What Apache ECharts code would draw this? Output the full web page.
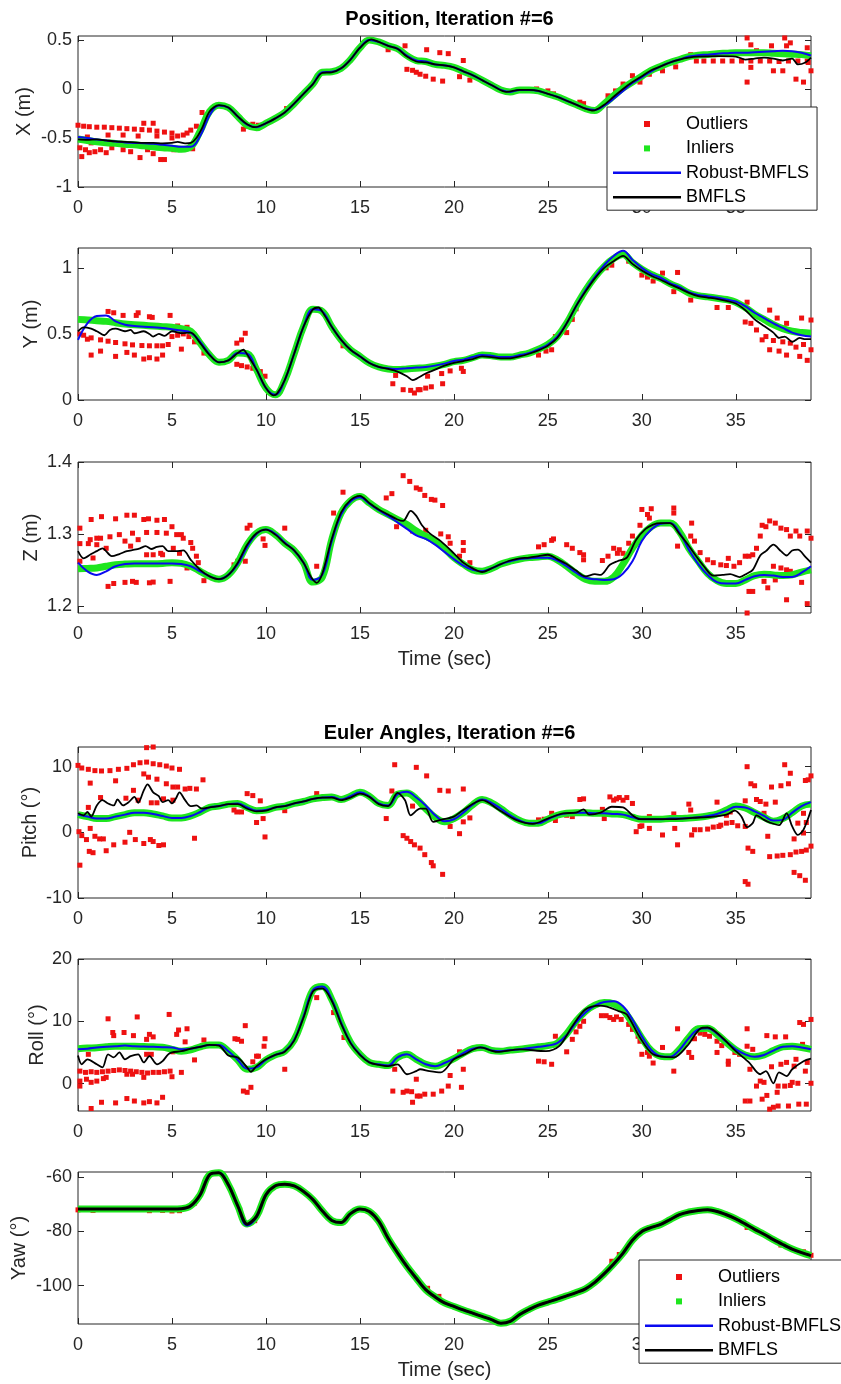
<!DOCTYPE html>
<html>
<head>
<meta charset="utf-8">
<script src="https://cdn.jsdelivr.net/npm/echarts@6/dist/echarts.min.js"></script>
<style>
html,body{margin:0;padding:0;background:#fff;}
#chart{width:841px;height:1384px;}
</style>
</head>
<body>
<div id="chart"></div>
<script>
// ---- time base (sec) shared by the inlier and robust-estimate curves ----
const T = [0,0.5,1,1.5,2,2.5,3,3.5,4,4.5,5,5.5,6,6.5,7,7.5,8,8.5,9,9.5,10,10.5,11,11.5,12,12.5,13,13.5,14,14.5,15,15.5,16,16.5,17,17.5,18,18.5,19,19.5,20,20.5,21,21.5,22,22.5,23,23.5,24,24.5,25,25.5,26,26.5,27,27.5,28,28.5,29,29.5,30,30.5,31,31.5,32,32.5,33,33.5,34,34.5,35,35.5,36,36.5,37,37.5,38,38.5,39];
const timeTicks = [0,5,10,15,20,25,30,35];

// ---- X position (m) ----
const xTicks = [-1,-0.5,0,0.5];
const xInliers = [-0.51,-0.525,-0.54,-0.55,-0.555,-0.565,-0.57,-0.58,-0.59,-0.6,-0.605,-0.615,-0.59,-0.43,-0.23,-0.165,-0.19,-0.28,-0.37,-0.395,-0.35,-0.3,-0.24,-0.15,-0.05,0.05,0.17,0.175,0.21,0.3,0.42,0.5,0.48,0.44,0.41,0.34,0.29,0.28,0.25,0.24,0.22,0.18,0.14,0.09,0.04,-0.01,-0.03,-0.01,-0.01,-0.02,-0.05,-0.08,-0.12,-0.16,-0.2,-0.22,-0.15,-0.07,0.01,0.07,0.13,0.19,0.23,0.27,0.3,0.33,0.345,0.35,0.36,0.365,0.37,0.37,0.37,0.37,0.365,0.36,0.355,0.35,0.34];
const xRobust = [-0.49,-0.5,-0.515,-0.525,-0.535,-0.545,-0.55,-0.555,-0.56,-0.57,-0.58,-0.59,-0.59,-0.48,-0.27,-0.17,-0.19,-0.28,-0.365,-0.39,-0.35,-0.3,-0.24,-0.15,-0.05,0.05,0.17,0.175,0.21,0.3,0.42,0.5,0.48,0.44,0.41,0.34,0.29,0.28,0.25,0.24,0.22,0.18,0.14,0.09,0.04,-0.01,-0.03,-0.01,-0.01,-0.02,-0.05,-0.08,-0.12,-0.16,-0.2,-0.215,-0.17,-0.1,-0.02,0.06,0.12,0.18,0.23,0.27,0.3,0.33,0.345,0.35,0.36,0.365,0.37,0.37,0.375,0.38,0.385,0.39,0.385,0.37,0.34];
const xBmfls = [[0,-0.515],[0.5,-0.52],[1,-0.515],[1.5,-0.525],[2,-0.535],[2.5,-0.54],[3,-0.545],[3.5,-0.55],[4,-0.55],[4.5,-0.555],[5,-0.55],[5.3,-0.54],[5.7,-0.555],[6,-0.55],[6.3,-0.5],[6.6,-0.4],[7,-0.23],[7.5,-0.165],[8,-0.19],[8.5,-0.28],[9,-0.36],[9.4,-0.39],[10,-0.35],[10.5,-0.3],[11,-0.24],[11.5,-0.15],[12,-0.05],[12.5,0.05],[13,0.165],[13.5,0.17],[14,0.21],[14.5,0.3],[15,0.42],[15.6,0.505],[16,0.48],[16.5,0.44],[17,0.41],[17.5,0.33],[18,0.28],[18.5,0.27],[19,0.25],[19.5,0.24],[20,0.22],[20.5,0.18],[21,0.14],[21.5,0.09],[22,0.04],[22.8,-0.03],[23.5,-0.01],[24,-0.01],[24.5,-0.02],[25,-0.05],[25.5,-0.08],[26,-0.12],[26.5,-0.16],[27,-0.2],[27.4,-0.22],[28,-0.16],[28.5,-0.08],[29,0],[29.5,0.07],[30,0.13],[30.5,0.19],[31,0.23],[31.5,0.27],[32,0.3],[32.5,0.32],[33,0.33],[34,0.335],[35,0.33],[35.5,0.3],[36,0.31],[36.5,0.32],[37,0.31],[37.5,0.29],[38,0.31],[38.3,0.25],[38.7,0.27],[39,0.32]];
const xOutliers = [[0,-0.37],[0.3,-0.38],[0.6,-0.385],[1,-0.39],[1.4,-0.39],[1.8,-0.395],[2.2,-0.4],[2.6,-0.405],[3,-0.41],[3.4,-0.415],[3.8,-0.42],[4.2,-0.43],[4.6,-0.44],[5,-0.45],[3.5,-0.35],[4,-0.35],
 [0.1,-0.6],[0.2,-0.69],[0.4,-0.62],[0.6,-0.65],[0.7,-0.55],[0.9,-0.64],[1.2,-0.62],[1.5,-0.65],[1.8,-0.6],[2.4,-0.62],[2.8,-0.64],[3.3,-0.7],[3.7,-0.62],[4,-0.66],[4.4,-0.72],[4.6,-0.72],[5.1,-0.62],[6.1,-0.61],
 [0.5,-0.49],[1.6,-0.47],[2.4,-0.47],[3.2,-0.48],[4.2,-0.48],[5,-0.5],[5.3,-0.48],[5.6,-0.47],[5.8,-0.45],[6,-0.42],[6.3,-0.38],[6.6,-0.24],
 [8.8,-0.41],[9,-0.38],[9.3,-0.36],[9.6,-0.37],[10,-0.35],[11.1,-0.2],
 [16.5,0.4],[16.9,0.55],[17.4,0.44],[17.5,0.2],[17.8,0.19],[18,0.17],[18.55,0.4],[19.25,0.37],[19.7,0.36],[20.5,0.29],[18.2,0.15],[18.5,0.13],[18.9,0.1],[19.4,0.08],[20.3,0.125],[20.85,0.09],
 [24.4,0],[25,-0.02],[25.3,-0.05],[26.7,-0.135],[26.9,-0.15],
 [28.2,-0.07],[28.6,-0.02],[29,0.05],[29.5,0.135],[29.9,0.07],[30.4,0.15],[31.1,0.185],[31.8,0.225],[32.6,0.35],[32.9,0.285],[33.3,0.285],[33.8,0.285],[34.3,0.285],[34.8,0.285],[35.3,0.285],[35.8,0.285],[36.3,0.285],[36.8,0.285],[37.3,0.28],[37.8,0.285],[38.3,0.285],[38.8,0.285],
 [35.6,0.52],[35.8,0.45],[35.8,0.22],[35.6,0.07],[36.1,0.39],[36.9,0.44],[37,0.185],[37.5,0.185],[37.6,0.52],[37.7,0.44],[37.9,0.47],[38.2,0.1],[38.6,0.07],[38.8,0.42],[39,0.185],[38.85,0.27]];

// ---- Y position (m) ----
const yTicks = [0,0.5,1];
const yInliers = [0.61,0.605,0.6,0.595,0.585,0.575,0.57,0.565,0.56,0.555,0.55,0.54,0.52,0.43,0.34,0.285,0.3,0.355,0.35,0.23,0.09,0.04,0.15,0.35,0.555,0.686,0.67,0.555,0.455,0.38,0.33,0.28,0.25,0.235,0.23,0.235,0.24,0.245,0.255,0.27,0.29,0.3,0.32,0.34,0.335,0.325,0.325,0.34,0.355,0.385,0.42,0.48,0.58,0.71,0.83,0.93,1.01,1.07,1.1,1.04,0.99,0.95,0.92,0.88,0.85,0.81,0.79,0.78,0.77,0.76,0.74,0.7,0.65,0.61,0.57,0.54,0.52,0.51,0.505];
const yRobust = [0.455,0.58,0.635,0.64,0.595,0.57,0.56,0.555,0.55,0.545,0.535,0.525,0.51,0.44,0.345,0.285,0.3,0.355,0.35,0.23,0.09,0.04,0.15,0.35,0.555,0.686,0.67,0.555,0.455,0.38,0.33,0.28,0.25,0.24,0.235,0.24,0.245,0.25,0.26,0.275,0.295,0.305,0.325,0.34,0.335,0.325,0.325,0.34,0.355,0.385,0.42,0.48,0.58,0.71,0.83,0.93,1.02,1.09,1.13,1.06,1,0.955,0.925,0.885,0.855,0.815,0.795,0.785,0.775,0.76,0.745,0.71,0.66,0.62,0.58,0.545,0.51,0.49,0.48];
const yBmfls = [[0,0.52],[0.3,0.55],[0.7,0.54],[1,0.52],[1.4,0.49],[1.7,0.53],[2,0.54],[2.5,0.52],[2.8,0.53],[3,0.505],[3.5,0.52],[3.8,0.5],[4,0.48],[4.3,0.5],[4.6,0.485],[5,0.52],[5.5,0.505],[6,0.51],[6.5,0.43],[7,0.34],[7.5,0.285],[8,0.3],[8.5,0.355],[8.8,0.38],[9,0.345],[9.5,0.23],[10,0.09],[10.4,0.035],[10.6,0.05],[11,0.15],[11.5,0.35],[12,0.555],[12.5,0.686],[12.8,0.7],[13,0.668],[13.5,0.555],[14,0.455],[14.5,0.38],[15,0.33],[15.5,0.28],[16,0.25],[16.5,0.235],[17,0.215],[17.5,0.18],[17.8,0.15],[18,0.16],[18.5,0.2],[19,0.23],[19.5,0.26],[20,0.28],[20.5,0.295],[21,0.31],[21.5,0.33],[22,0.325],[22.5,0.315],[23,0.315],[23.5,0.33],[24,0.35],[24.5,0.375],[25,0.41],[25.5,0.47],[26,0.58],[26.5,0.71],[27,0.82],[27.5,0.92],[28,1],[28.5,1.05],[29,1.09],[29.5,1.03],[30,0.98],[30.5,0.94],[31,0.91],[31.5,0.875],[32,0.845],[32.5,0.81],[33,0.785],[33.5,0.775],[34,0.765],[34.5,0.75],[35,0.73],[35.5,0.68],[36,0.61],[36.5,0.56],[37,0.51],[37.3,0.47],[37.6,0.48],[38,0.44],[38.4,0.47],[38.7,0.46],[39,0.46]];
const yOutliers = [[0.3,0.49],[0.7,0.47],[1.2,0.455],[1.6,0.445],[2,0.435],[2.5,0.425],[2.9,0.417],[3.4,0.412],[3.8,0.41],[4.2,0.41],[4.5,0.41],[4.8,0.42],[5,0.48],[5.3,0.49],[5.6,0.5],[5.9,0.48],[6.2,0.44],
 [1.6,0.67],[1.9,0.66],[2.4,0.64],[3.1,0.64],[3.2,0.66],[3.8,0.63],[3.95,0.625],[4.9,0.64],[5.3,0.56],[5.8,0.55],
 [0.7,0.34],[1.2,0.37],[2,0.33],[2.6,0.36],[3,0.34],[3.5,0.31],[3.8,0.32],[4.2,0.31],[4.5,0.34],[5.5,0.385],[0.1,0.5],[0.5,0.46],
 [6.7,0.355],[8.45,0.43],[8.7,0.455],[8.9,0.505],[8.45,0.27],[8.7,0.26],[9,0.25],[9.3,0.24],[9.7,0.215],[9.95,0.18],
 [12.6,0.686],[13.6,0.53],[14.1,0.41],
 [16.75,0.123],[16.9,0.186],[17.3,0.078],[17.7,0.073],[17.9,0.053],[18.1,0.078],[18.2,0.078],[18.5,0.09],[18.8,0.1],[19.4,0.123],[18.6,0.18],[19.35,0.2],[19.8,0.22],[20.4,0.24],[20.5,0.216],
 [24.5,0.34],[24.9,0.37],[25.2,0.38],[25.4,0.48],[26,0.51],[26.3,0.61],[26.5,0.69],[26.8,0.78],
 [28.1,1],[28.4,1.02],[29.3,1.05],[30,0.945],[30.3,0.93],[30.6,0.9],[31.1,0.96],[31.9,0.965],[31.7,0.82],[32.6,0.756],[34,0.7],[34.6,0.7],[35.6,0.74],[35.5,0.59],[35.8,0.58],[36.1,0.53],[36.4,0.455],[36.8,0.68],[36.8,0.38],[37.2,0.62],[37.3,0.37],[37.7,0.58],[37.7,0.34],[37.9,0.43],[38.4,0.33],[38.5,0.62],[38.8,0.3],[39,0.605],[39,0.38],[38.6,0.42],[38.2,0.4],[36.6,0.48],[37,0.45],[37.5,0.44]];

// ---- Z position (m) ----
const zTicks = [1.2,1.3,1.4];
const zInliers = [1.2516,1.252,1.2526,1.255,1.257,1.258,1.2586,1.2586,1.2586,1.259,1.26,1.259,1.255,1.248,1.241,1.237,1.243,1.26,1.285,1.301,1.306,1.299,1.287,1.277,1.26,1.233,1.24,1.292,1.329,1.346,1.352,1.343,1.334,1.327,1.32,1.313,1.304,1.297,1.29,1.28,1.267,1.258,1.25,1.248,1.252,1.258,1.262,1.265,1.267,1.268,1.269,1.264,1.255,1.245,1.237,1.234,1.234,1.24,1.258,1.28,1.298,1.31,1.315,1.315,1.303,1.28,1.262,1.245,1.235,1.231,1.231,1.236,1.242,1.244,1.243,1.242,1.243,1.247,1.25];
const zRobust = [1.26,1.248,1.243,1.248,1.255,1.258,1.259,1.259,1.259,1.259,1.259,1.258,1.255,1.248,1.241,1.237,1.243,1.258,1.282,1.3,1.306,1.3,1.288,1.277,1.26,1.236,1.243,1.29,1.327,1.345,1.351,1.342,1.333,1.325,1.316,1.307,1.298,1.293,1.285,1.275,1.265,1.256,1.25,1.248,1.252,1.258,1.262,1.265,1.266,1.267,1.267,1.263,1.255,1.246,1.239,1.237,1.236,1.237,1.245,1.262,1.29,1.306,1.314,1.315,1.302,1.278,1.258,1.243,1.233,1.231,1.231,1.236,1.241,1.243,1.242,1.24,1.24,1.246,1.255];
const zBmfls = [[0,1.276],[0.3,1.266],[0.7,1.272],[1,1.276],[1.3,1.28],[1.8,1.269],[2.2,1.272],[2.6,1.276],[3,1.278],[3.3,1.28],[3.6,1.283],[3.9,1.279],[4.2,1.282],[4.5,1.283],[4.8,1.276],[5.2,1.276],[5.6,1.277],[6,1.264],[6.5,1.25],[7,1.241],[7.5,1.237],[8,1.243],[8.5,1.26],[9,1.285],[9.5,1.301],[10,1.306],[10.5,1.299],[11,1.287],[11.5,1.277],[12,1.26],[12.4,1.24],[12.7,1.232],[13,1.245],[13.5,1.293],[14,1.33],[14.5,1.347],[15,1.353],[15.5,1.343],[16,1.334],[16.5,1.327],[17,1.32],[17.3,1.318],[17.7,1.332],[18,1.325],[18.3,1.312],[18.7,1.301],[19.3,1.29],[20,1.273],[20.5,1.26],[21,1.252],[21.5,1.247],[22,1.252],[22.5,1.258],[23,1.263],[23.5,1.266],[24,1.267],[24.5,1.269],[25,1.271],[25.5,1.265],[26,1.258],[26.5,1.249],[27,1.241],[27.5,1.244],[27.8,1.243],[28.3,1.257],[28.7,1.262],[29.2,1.267],[29.7,1.292],[30.2,1.307],[30.6,1.313],[31,1.315],[31.5,1.315],[32,1.3],[32.4,1.287],[33,1.265],[33.3,1.255],[33.8,1.242],[34.3,1.243],[34.7,1.244],[35.2,1.24],[35.6,1.245],[35.9,1.25],[36.3,1.27],[36.6,1.276],[37,1.285],[37.4,1.276],[37.7,1.27],[38,1.277],[38.3,1.278],[38.7,1.268],[39,1.26]];
const zOutliers = [[0.1,1.2865],[0.65,1.292],[1.2,1.294],[1.7,1.296],[2.2,1.299],[2.9,1.301],[3.65,1.302],[4.2,1.302],[4.7,1.301],[5.25,1.299],[5.6,1.294],[6,1.288],[6.1,1.28],[6.3,1.269],[6.4,1.26],
 [0.1,1.308],[0.7,1.32],[1.25,1.324],[2,1.321],[2.6,1.326],[3,1.326],[3.5,1.32],[3.75,1.321],[4.2,1.319],[4.6,1.32],[5,1.31],[5.5,1.299],
 [0.55,1.2865],[1,1.285],[1.5,1.28],[1,1.294],[2.5,1.29],[2.8,1.283],[3.2,1.292],[3.65,1.271],[4,1.271],[4.4,1.273],[4.5,1.271],[5.07,1.28],[5.4,1.273],
 [1.6,1.227],[1.9,1.231],[2.5,1.2326],[2.9,1.234],[3.1,1.2326],[3.8,1.232],[4,1.233],[4.9,1.234],[0.1,1.262],[0.8,1.2665],[5.8,1.2526],[6.7,1.235],
 [8.3,1.257],[8.5,1.262],[8.7,1.271],[8.9,1.262],[9,1.308],[9.15,1.312],[9.85,1.293],[9.95,1.284],[11,1.308],
 [12.7,1.255],[13.6,1.329],[14.1,1.358],[16.4,1.35],[16.7,1.356],[16.95,1.31],[17.3,1.381],[17.65,1.373],[18,1.364],[17.8,1.304],
 [18.2,1.362],[18.45,1.3535],[18.8,1.348],[18.99,1.347],[19.4,1.3395],[18.5,1.305],[19.3,1.3],[19.7,1.296],[19.8,1.287],[20.3,1.269],[20.5,1.288],[20.5,1.277],[20.85,1.26],
 [24.5,1.282],[24.8,1.285],[25.2,1.291],[25.3,1.293],[26,1.285],[26.3,1.28],[26.7,1.274],[26.9,1.271],[26.9,1.264],
 [27.9,1.263],[28.2,1.269],[28.5,1.28],[28.7,1.273],[28.8,1.278],[29,1.273],[29.3,1.287],[29.5,1.297],[29.9,1.312],[30,1.334],[30.3,1.327],[30.4,1.322],[30.5,1.335],[31.7,1.336],[31.7,1.329],[32.65,1.315],[32.6,1.297],[32.8,1.29],[31.9,1.283],[33.1,1.274],[33.5,1.264],[33.8,1.26],[34.2,1.257],[34.5,1.256],[34.9,1.255],[34.6,1.266],[35.2,1.26],[35.5,1.269],[35.7,1.269],[35.9,1.271],[36.1,1.28],[36.3,1.297],[36.4,1.312],[36.6,1.31],[36.8,1.318],[37.1,1.315],[37.4,1.308],[37.7,1.306],[37.9,1.297],[38.2,1.304],[38.4,1.297],[38.8,1.304],[39,1.294],
 [37,1.255],[37.4,1.2526],[37.7,1.25],[37.9,1.248],[38.5,1.2326],[36.5,1.234],[36.7,1.225],[35.7,1.22],[35.9,1.22],[37.1,1.236],[37.7,1.2084],[35.6,1.19],[38.8,1.203]];

// ---- Pitch (deg) ----
const pitchTicks = [-10,0,10];
const pitchInliers = [2.7,2.4,2.1,2.1,2.4,2.7,3,3,2.8,2.5,2.2,2.2,2.5,3.1,3.8,4,4.3,4.4,3.8,3.3,3.4,3.8,4,4.4,4.7,5.1,5.3,5.4,5,5.5,6.1,5.5,4.4,4.1,5.8,6,5.1,3.6,2.3,1.6,2.1,3,4.2,5,4.5,3.6,2.6,1.8,1.4,1.4,2,2.6,2.9,3,3,2.9,2.9,2.8,2.7,2.3,2,2,2,2.1,2.1,2.2,2.3,2.5,2.8,3.4,4,3.7,3,2.3,1.7,2.1,3,4,4.3];
const pitchRobust = [2.7,2.4,2.1,2.1,2.4,2.7,3,3,2.8,2.5,2.2,2.2,2.5,3.1,3.8,4,4.3,4.4,3.8,3.3,3.4,3.8,4,4.4,4.7,5.1,5.3,5.4,5,5.5,6.1,5.5,4.4,4.1,5.8,6.2,5.3,4.1,2.6,1.7,2,3,4.2,5,4.5,3.6,2.6,1.8,1.4,1.4,2,2.6,2.9,3,3,2.9,2.9,2.8,2.7,2.3,2,2,2,2.1,2.1,2.2,2.3,2.5,2.8,3.3,3.9,3.8,3.2,2.5,1.8,1.9,3,4,4.6];
const pitchBmfls = [[0,2.9],[0.3,2.6],[0.5,3.1],[0.7,2.4],[1,4.1],[1.3,4.9],[1.6,4.4],[1.9,4.1],[2.1,5],[2.4,4.1],[2.7,4.6],[3,5.4],[3.2,4.5],[3.5,6.4],[3.7,7.3],[4,6.1],[4.3,5.5],[4.5,4.6],[4.8,4.9],[5,4.4],[5.2,5.1],[5.4,6.1],[5.7,4.9],[6,4],[6.3,4.1],[6.6,3.6],[7,3.8],[7.5,4],[8,4.3],[8.5,4.3],[9,3.6],[9.5,3.2],[10,3.3],[10.5,3.8],[11,4],[11.5,4.4],[12,4.7],[12.5,5.1],[13,5.3],[13.5,5.3],[14,4.9],[14.5,5.3],[15,5.9],[15.5,5.4],[16,4.3],[16.5,4],[17,6],[17.4,4.9],[17.7,2.6],[18.2,3.6],[18.5,3.6],[18.9,1.6],[19.3,1.9],[20,2.4],[20.5,3.4],[21.5,4.9],[22.4,3.4],[23.3,1.9],[24.2,1.3],[25,2.1],[25.8,2.9],[26.5,3],[26.9,3.5],[27.2,2.7],[27.8,3],[28.4,3.9],[29,3.8],[29.5,2.6],[29.9,2],[30.6,2],[31.7,2],[32.7,2.2],[33.8,2.4],[34.5,2.7],[34.95,3.3],[35.3,2.4],[35.6,0.8],[35.9,1.4],[36.1,2.6],[36.5,1.9],[36.8,1.5],[37.3,1.1],[37.7,2.9],[38,0.9],[38.3,-0.4],[38.6,0.4],[39,3.4]];
const pitchOutliers = [[0,10.2],[0.2,9.8],[0.55,9.6],[0.9,9.4],[1.25,9.35],[1.7,9.4],[2.15,9.6],[2.6,9.75],[2.95,10.3],[3.3,10.6],[3.65,10.7],[4,10.45],[4.35,10.3],[4.7,10.1],[5,9.8],[5.4,9.6],[3.65,12.9],[4,13],
 [0.65,7.5],[2,7.85],[2.95,6.4],[3.2,4.9],[3.5,8.9],[3.75,8.4],[4.2,8.1],[4.7,7.4],[5.05,6.9],[5.3,6.9],[5.7,6.6],[5.95,6.7],[6.3,6.6],[6.65,8],[5.05,4.9],[4.55,5.1],[3.9,4.5],[4.2,4.5],[2.55,5.2],[1.2,5.3],[0.55,3.8],
 [0.05,0.1],[0.2,-0.5],[0.1,-5],[0.65,0.6],[0.9,-0.6],[1.15,-1],[1.35,-1],[0.6,-2.9],[0.8,-3.1],[1.5,-2.8],[1.9,-1.9],[2.5,-1.5],[2.75,0],[3.05,-1.1],[3.5,-1.7],[3.85,-1.1],[4,-1.4],[4.3,-2],[4.55,-1.9],[0.45,-1.1],[6.2,-0.9],
 [8.3,3.4],[8.45,3.1],[8.7,3.1],[9,5.9],[9.3,5.6],[9.5,1.5],[9.7,4.8],[9.85,2.1],[9.95,-0.7],[11,3.3],[12.7,5.9],
 [16.85,10.3],[16.4,2.1],[16.7,6.3],[17.3,-0.5],[17.5,-0.9],[17.7,-1.4],[17.9,-1.9],[18,9.9],[17.8,4],
 [18.55,8.6],[18.2,-2.4],[18.45,-3.4],[18.8,-4.6],[18.9,-5.1],[19.4,-6.4],[19.25,6.4],[19.7,6.3],[19.8,0.9],[20.3,-0.2],[20.5,6.6],[20.5,1.6],[20.85,2.2],
 [24.5,1.9],[24.8,2],[25.2,2.9],[25.4,1.8],[26,2.6],[26.3,2.4],[26.7,5],[26.9,5.1],[27.9,3.5],[28,2.1],[28.3,5.4],[28.5,4.9],[28.65,5.1],[28.8,5.3],[29,4.9],[29.2,5.3],[29.5,4.4],[29.7,0.1],[29.9,0.9],[30,1],[30.4,0.6],[30.4,2.4],[31.1,-0.4],[31.7,2.8],[31.9,-1.9],[31.75,0.6],
 [32.5,4.3],[32.6,3.4],[32.65,-0.4],[32.8,0.4],[33.1,0.4],[33.5,0.5],[33.8,0.8],[34.1,0.9],[34.2,1.1],[34.5,1.4],[34.8,1.5],[35.1,1],[35.5,0.9],[34,4.6],[34.5,2.6],[34.7,3.1],[35.5,4.8],
 [35.6,10],[35.8,7.4],[36,7.1],[36.1,5],[36.3,4.7],[36.5,2.9],[36.6,4.3],[36.7,-0.6],[36.9,6.9],[37.1,4.6],[37.4,7.1],[37.6,10.3],[37.8,7.4],[37.9,9],
 [35.65,-2.4],[35.9,-2.9],[35.5,-7.5],[35.65,-7.9],[36.8,-3.7],[37.2,-3.6],[37.5,-3.5],[37.9,-3.4],[38.2,-3],[38.5,-2.9],[38.75,-2.7],[39,-2.1],[38.1,-6.1],[38.4,-6.6],[38.7,-7.3],[38.1,-1],[38.6,-0.1],[38.7,7.9],[38.85,8],[39,8.6],[38.6,2.9],[38.75,1.5],[38.3,1.4]];

// ---- Roll (deg) ----
const rollTicks = [0,10,20];
const rollInliers = [5.6,5.7,5.76,5.9,6,6,6,5.95,5.9,5.85,5.5,5.2,5.4,5.9,6.2,6.2,5.2,3.8,2.3,2.6,3.8,4.6,5.2,7,10.8,15,15.6,13.5,9.8,6.6,4.7,3.4,3.1,2.9,4.2,4.7,3.9,3.1,2.8,3.3,4,4.9,5.6,5.8,5.3,5.2,5.4,5.5,5.7,5.9,6.1,6.5,8,10,11.6,12.6,13,12.8,11.8,9.7,7.3,5.3,4.4,4.3,5.5,7.4,8.8,8.9,7.9,6.6,5.4,4.6,4.3,4.6,5.3,5.9,6,5.8,5.5];
const rollRobust = [5.5,5.6,5.8,5.9,6,6.1,6,5.95,5.9,5.85,5.8,5.5,5.6,5.9,6.2,6.2,5.2,3.8,2.4,2.6,3.8,4.6,5.2,7,10.8,15,15.6,13.5,9.8,6.6,4.7,3.4,3.1,2.9,4.2,4.7,3.9,3.1,2.8,3.3,4,4.9,5.6,5.8,5.3,5.2,5.4,5.5,5.7,5.9,6.1,6.5,7.8,9.8,11.4,12.5,13.1,13.2,12.4,10.3,7.6,5.4,4.4,4.3,5.4,7.3,8.7,8.9,8,6.7,5.5,4.7,4.3,4.6,5.3,5.9,6,5.8,5.5];
const rollBmfls = [[0,4.5],[0.2,3.1],[0.5,3.9],[1,3.1],[1.3,2.6],[1.6,4.7],[1.9,4.2],[2.2,5],[2.5,3.9],[2.8,4.4],[3.2,4.7],[3.5,3.4],[3.8,4.4],[4.2,3.1],[4.5,3.6],[4.8,4.7],[5,5],[5.5,5.2],[6,5.6],[6.5,5.9],[7,6.2],[7.5,6.1],[8,4.5],[8.5,4.2],[9,2.6],[9.2,1.9],[9.5,2.8],[10,3.9],[10.5,4.6],[11,5.1],[11.5,6.9],[12,10.6],[12.5,14.8],[13,15.3],[13.5,13.3],[14,9.6],[14.5,6.5],[15,4.6],[15.5,3.4],[16,3],[16.5,2.8],[17,3.1],[17.5,1.5],[18,2],[18.2,2.3],[18.7,2],[19.3,1.8],[20,3.9],[20.5,4.6],[21.4,5.8],[22.3,5.1],[23.5,5.5],[24.9,5.2],[25.6,6],[26.3,9.2],[27,11.9],[27.8,12.5],[28.3,12.2],[28.8,11.6],[29.2,11.1],[29.9,7.4],[30.6,4.7],[31.7,4.2],[32.4,6],[33.1,8.8],[33.5,9],[34.2,7.6],[35,5.2],[35.7,3.4],[36.3,1.5],[36.6,2],[37,0.05],[37.3,1.8],[37.7,1.2],[38,2.3],[38.6,3.6],[39,4]];
const rollOutliers = [[0.1,2],[0.4,1.8],[0.7,1.9],[1,1.8],[1.3,1.9],[1.6,2],[1.9,2.1],[2.2,2.2],[2.5,2.1],[2.8,2],[3.1,1.9],[3.4,1.8],[3.7,1.7],[4,1.8],[4.3,1.8],[4.6,1.9],[4.9,2],
 [0.1,0.4],[0.1,-0.4],[0.45,0.7],[0.7,0.2],[1,0.4],[1.35,0.8],[1.5,1],[2.6,1.5],[2.9,1.5],[3.5,1],[0.7,-4],[1.25,-3],[2,-3.1],[2.6,-2.4],[3,-2.8],[3.5,-3.1],[3.8,-2.9],[4.2,-3.1],[4.5,-2.2],[5,1.1],[5.5,1.8],
 [0.55,4.7],[1.6,10.4],[1.85,8.2],[1.9,7.7],[2.45,8.2],[2.95,7.7],[3.15,10.7],[3.65,7.1],[3.8,7.9],[4,7.5],[3.65,4.7],[3.9,4.7],[4.85,11.1],[5.25,7.9],[5.35,8.6],[5.8,8.8],[5.7,6.7],[6.2,3.8],[6.7,7],[5.05,5.1],
 [8.35,7.2],[8.5,7.1],[8.7,6.8],[8.9,9.3],[8.8,-1.2],[9,-1.4],[9.2,-0.6],[9.5,4.4],[9.6,4.4],[9.95,7.2],[9.9,6],[9.3,3.5],[11,2.3],
 [12.7,13.8],[13.6,11.4],[14.15,7.4],[16.75,-1.2],[16.85,2.3],[17.3,-1.4],[17.5,-1.2],[17.75,-1.3],[17.8,-3],[18,0.7],[18.05,-2],
 [18.2,-2],[18.45,-1.7],[18.9,-1.7],[19.35,-1.2],[19.7,-0.4],[19.8,1.3],[20.4,-0.6],[20.5,2.3],[20.3,5.1],
 [24.5,3.6],[24.8,3.5],[25.2,3.1],[25.4,7.6],[26,5.1],[26.3,7.1],[26.5,8.3],[26.7,9.2],[26.9,10],
 [27.85,10.9],[28.1,10.9],[28.3,10.6],[28.5,10.3],[28.65,10.7],[28.9,10.3],[29.3,9.5],[29.5,8.7],[29.8,7.6],[29.9,6.8],[30,4.7],[30.3,5],[30.4,4.4],[30.6,3.3],[31.1,5.8],[31.7,2],[31.9,8.8],
 [32.5,5],[32.65,4.2],[32.8,7.2],[33.1,8.1],[33.35,7.9],[33.6,7.6],[34,6.8],[34,5],[34.25,6.1],[34.6,3.6],[34.6,3.1],[34.95,5],[35.2,4.7],[35.6,8.8],[35.6,6],[35.75,2.3],[35.9,5.5],
 [35.5,-2.8],[35.75,-2.8],[36.1,-0.4],[36.3,0.4],[36.5,0.2],[36.65,7.7],[36.4,-2.5],[36.9,2.7],[37.1,7.5],[37.2,-1.4],[37.25,-0.4],[37.4,3.1],[37.65,7.5],[37.7,3.4],[37.9,-0.3],[38,0.2],[38.2,3.9],[38.3,0.05],[38.4,9.8],[38.6,9.5],[38.7,2],[38.8,3.4],[39,10.3],[39,0.05],
 [36.8,-4.1],[37,-3.8],[37.25,-3.6],[37.8,-3.6],[38.35,-3.3],[38.75,-3.3],[36.65,-1.9],[37.6,-0.4],[38.1,2.8],[38.55,6.3]];

// ---- Yaw (deg) ----
const yawTicks = [-100,-80,-60];
const yawInliers = [-71.7,-71.7,-71.7,-71.7,-71.7,-71.7,-71.7,-71.7,-71.7,-71.7,-71.7,-71.6,-70.5,-66.4,-59,-58.3,-62.7,-70.5,-77.2,-74.4,-66.4,-63.1,-62.5,-63.1,-65.2,-68.2,-72.4,-75.9,-76.7,-73.4,-71.7,-72.6,-76.2,-82.5,-87.9,-92.9,-97.3,-101.5,-104.2,-106.4,-107.7,-109,-110.2,-111.4,-112.6,-113.9,-113.2,-110.7,-108.8,-107.2,-106.1,-105,-103.8,-102.6,-101.2,-98.8,-95.6,-92,-88,-83.2,-80,-78.5,-77.4,-75.6,-73.8,-72.8,-72.2,-72,-72.6,-73.8,-75.3,-77.2,-79.2,-81,-83,-84.8,-86.5,-87.8,-88.9];
const yawRobust = [-71.7,-71.7,-71.7,-71.7,-71.7,-71.7,-71.7,-71.7,-71.7,-71.7,-71.7,-71.6,-70.6,-66.6,-59.1,-58.3,-62.7,-70.6,-77.8,-74.6,-66.5,-63.1,-62.5,-63.1,-65.2,-68.2,-72.4,-75.9,-76.7,-73.4,-71.7,-72.6,-76.2,-82.5,-87.9,-92.9,-97.3,-101.5,-104.2,-106.4,-107.7,-109,-110.2,-111.4,-112.6,-113.9,-113.2,-110.7,-108.8,-107.2,-106.1,-105,-103.8,-102.6,-101.2,-98.8,-95.7,-92.2,-88.2,-83.3,-80,-78.5,-77.4,-75.6,-73.8,-72.8,-72.2,-72,-72.6,-73.8,-75.3,-77.2,-79.2,-81,-83,-84.9,-86.6,-87.9,-88.9];
const yawBmfls = [-71.7,-71.7,-71.7,-71.7,-71.7,-71.7,-71.7,-71.7,-71.7,-71.7,-71.7,-71.6,-70.5,-66.4,-59,-58.3,-62.7,-70.5,-77.3,-74.4,-66.4,-63.1,-62.5,-63.1,-65.2,-68.2,-72.4,-75.9,-76.7,-73.4,-71.7,-72.6,-76.2,-82.5,-87.9,-92.9,-97.3,-101.5,-104.2,-106.4,-107.7,-109,-110.2,-111.4,-112.6,-113.9,-113.2,-110.7,-108.8,-107.2,-106.1,-105,-103.8,-102.6,-101.2,-98.8,-95.6,-92,-88,-83.2,-80,-78.5,-77.4,-75.6,-73.8,-72.8,-72.2,-72,-72.6,-73.8,-75.3,-77.2,-79.2,-81,-83,-84.8,-86.5,-87.8,-88.9];
const yawOutliers = [[0,-72],[0.8,-72.2],[1.8,-71.6],[2.3,-71.6],[2.8,-71.8],[3,-71.6],[3.8,-72.3],[4,-71.5],[4.5,-72.2],[5,-72.4],[5.4,-72.3],[6.2,-69.5],[8.6,-72],[9.4,-76],[18.6,-101],[19.2,-104],[28.4,-91],[28.8,-88.5],[35.6,-78.5],[36.2,-80],[37.4,-85],[38.6,-87.5],[39,-88.8]];

// ---- styling ----
const FONT = '"Liberation Sans", Arial, Helvetica, sans-serif';
const AXIS = '#262626';
const RED = '#ee1111', GREEN = '#1ee61e', BLUE = '#0a0af0', BLACK = '#000000';

const panels = [
  {label:'X (m)',     min:-1,     max:0.54, ticks:xTicks,     top:36,   height:151, nameGap:44, out:xOutliers,     inl:xInliers,     rob:xRobust,     bm:xBmfls,     bmPairs:true,  time:false},
  {label:'Y (m)',     min:0,      max:1.15, ticks:yTicks,     top:248,  height:152, nameGap:37, out:yOutliers,     inl:yInliers,     rob:yRobust,     bm:yBmfls,     bmPairs:true,  time:false},
  {label:'Z (m)',     min:1.19,   max:1.4,  ticks:zTicks,     top:462,  height:151, nameGap:37, out:zOutliers,     inl:zInliers,     rob:zRobust,     bm:zBmfls,     bmPairs:true,  time:true},
  {label:'Pitch (°)', min:-10,    max:13,   ticks:pitchTicks, top:747,  height:151, nameGap:38, out:pitchOutliers, inl:pitchInliers, rob:pitchRobust, bm:pitchBmfls, bmPairs:true,  time:false},
  {label:'Roll (°)',  min:-4.4,   max:20,   ticks:rollTicks,  top:959,  height:152, nameGap:31, out:rollOutliers,  inl:rollInliers,  rob:rollRobust,  bm:rollBmfls,  bmPairs:true,  time:false},
  {label:'Yaw (°)',   min:-114.2, max:-58,  ticks:yawTicks,   top:1172, height:152, nameGap:49, out:yawOutliers,   inl:yawInliers,   rob:yawRobust,   bm:yawBmfls,   bmPairs:false, time:true}
];

const zipT = arr => T.map((t, k) => [t, arr[k]]);

const grid = [], xAxis = [], yAxis = [], series = [];
const n = panels.length;
const labelStyle = {fontSize:18, color:AXIS, fontFamily:FONT};
const hiddenLine = {show:false, onZero:false};

panels.forEach((p, i) => {
  grid.push({left:78, right:30, top:p.top, height:p.height, show:true, borderColor:AXIS, borderWidth:1,
             backgroundColor:'transparent', containLabel:false, outerBoundsMode:'none'});
  xAxis[i] = {
    type:'value', gridIndex:i, min:0, max:39, position:'bottom',
    axisLine:hiddenLine, splitLine:{show:false},
    axisTick:{inside:true, length:6, customValues:timeTicks, lineStyle:{color:AXIS}},
    axisLabel:Object.assign({customValues:timeTicks, margin:12}, labelStyle),
    name: p.time ? 'Time (sec)' : '', nameLocation:'middle', nameGap:36, nameMoveOverlap:false,
    nameTextStyle:{fontSize:20, color:AXIS, fontFamily:FONT}
  };
  xAxis[n + i] = {
    type:'value', gridIndex:i, min:0, max:39, position:'top',
    axisLine:hiddenLine, splitLine:{show:false}, axisLabel:{show:false},
    axisTick:{inside:true, length:6, customValues:timeTicks, lineStyle:{color:AXIS}}
  };
  yAxis[i] = {
    type:'value', gridIndex:i, min:p.min, max:p.max, position:'left',
    axisLine:hiddenLine, splitLine:{show:false},
    axisTick:{inside:true, length:6, customValues:p.ticks, lineStyle:{color:AXIS}},
    axisLabel:Object.assign({customValues:p.ticks, margin:6, padding:[3,0,0,0]}, labelStyle),
    name:p.label, nameLocation:'middle', nameGap:p.nameGap, nameMoveOverlap:false,
    nameTextStyle:{fontSize:20, color:AXIS, fontFamily:FONT}
  };
  yAxis[n + i] = {
    type:'value', gridIndex:i, min:p.min, max:p.max, position:'right',
    axisLine:hiddenLine, splitLine:{show:false}, axisLabel:{show:false},
    axisTick:{inside:true, length:6, customValues:p.ticks, lineStyle:{color:AXIS}}
  };

  series.push({
    type:'scatter', name:'Outliers', xAxisIndex:i, yAxisIndex:i,
    data:p.out, symbol:'rect', symbolSize:5, itemStyle:{color:RED, opacity:1}, z:2
  });
  series.push({
    type:'line', name:'Inliers', xAxisIndex:i, yAxisIndex:i,
    data:zipT(p.inl), smooth:0.4, showSymbol:false,
    lineStyle:{color:GREEN, width:7}, itemStyle:{color:GREEN}, z:3
  });
  series.push({
    type:'line', name:'Robust-BMFLS', xAxisIndex:i, yAxisIndex:i,
    data:zipT(p.rob), smooth:0.4, showSymbol:false,
    lineStyle:{color:BLUE, width:2}, itemStyle:{color:BLUE}, z:4
  });
  series.push({
    type:'line', name:'BMFLS', xAxisIndex:i, yAxisIndex:i,
    data: p.bmPairs ? p.bm : zipT(p.bm), smooth:0.3, showSymbol:false,
    lineStyle:{color:BLACK, width: i === 5 ? 3 : 1.8}, itemStyle:{color:BLACK}, z:5
  });
});

const SQ = 'path://M0,0h5v5h-5z';
const LN = 'path://M0,0h68v2.6h-68z';
const legendData = [
  {name:'Outliers', icon:SQ},
  {name:'Inliers', icon:SQ},
  {name:'Robust-BMFLS', icon:LN},
  {name:'BMFLS', icon:LN}
];
const legendBase = {
  orient:'vertical', itemWidth:68, itemHeight:6, itemGap:6.4,
  padding:[8,8,4,6], backgroundColor:'#ffffff', borderColor:AXIS, borderWidth:1, borderRadius:0,
  textStyle:{fontSize:18, color:'#000', fontFamily:FONT, lineHeight:18},
  itemStyle:{borderWidth:0}, selectedMode:false, data:legendData, z:10
};

const option = {
  animation:false,
  backgroundColor:'#ffffff',
  title:[
    {text:'Position, Iteration #=6', left:444.5, top:4, textAlign:'center',
     textStyle:{fontSize:20, fontWeight:'bold', color:'#000', fontFamily:FONT}},
    {text:'Euler Angles, Iteration #=6', left:444.5, top:718, textAlign:'center',
     textStyle:{fontSize:20, fontWeight:'bold', color:'#000', fontFamily:FONT}}
  ],
  legend:[
    Object.assign({left:607, top:107}, legendBase),
    Object.assign({left:639, top:1260}, legendBase)
  ],
  grid, xAxis, yAxis, series
};

const chart = echarts.init(document.getElementById('chart'), null, {renderer:'canvas'});
chart.setOption(option);
</script>
</body>
</html>
